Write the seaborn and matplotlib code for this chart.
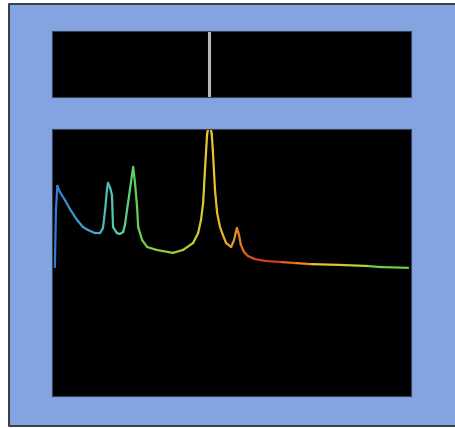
import numpy as np
import pandas as pd
import matplotlib
matplotlib.use("Agg")
import matplotlib.pyplot as plt
from matplotlib.colors import LinearSegmentedColormap
from matplotlib.patches import Rectangle
from matplotlib.lines import Line2D
import seaborn as sns

# Spectrum trace (x: 0-100 across panel, y: 0-100 panel height)
freq = [0.8, 1.1, 1.5, 2.2, 3.6, 5.0, 7.0, 8.6, 10.0, 12.0, 13.4, 14.2, 14.8, 15.3, 15.6,
        16.2, 16.7, 17.0, 18.1, 18.9, 19.8, 20.3, 20.9, 21.7, 22.6, 23.1, 23.7, 24.0, 25.1,
        26.5, 29.2, 33.7, 36.5, 39.3, 40.7, 41.5, 42.1, 42.6, 43.2, 43.9, 44.5, 44.8, 45.4,
        46.0, 46.8, 47.6, 48.5, 49.9, 50.7, 51.5, 52.1, 52.6, 53.5, 54.6,
        56.5, 59.3, 63.5, 67.7, 71.9, 80.2, 87.7, 91.4, 99.2]
power = [48.3, 69.7, 78.7, 76.4, 73.4, 70.0, 65.9, 63.3, 62.2, 61.0, 61.0, 62.9, 69.7,
         77.2, 79.8, 77.9, 75.3, 63.3, 61.0, 60.7, 61.4, 64.0, 69.7, 77.2, 85.8, 80.1,
         70.8, 63.3, 58.4, 55.8, 54.7, 53.6, 54.7, 57.3, 61.0, 65.9, 72.3, 84.6, 98.0,
         103.0, 98.0, 92.1, 77.2, 68.5, 63.3, 60.3, 57.3, 55.8, 58.4, 62.9, 60.3, 56.6,
         53.9, 52.4, 51.3, 50.6, 50.2, 49.8, 49.4, 49.1, 48.7, 48.3, 48.0]
tone = [0.00, 0.01, 0.02, 0.04, 0.07, 0.10, 0.13, 0.16, 0.19, 0.22, 0.24, 0.26, 0.28,
        0.29, 0.30, 0.31, 0.32, 0.33, 0.34, 0.36, 0.37, 0.38, 0.39, 0.41, 0.44, 0.45,
        0.46, 0.47, 0.48, 0.49, 0.51, 0.55, 0.58, 0.60, 0.62, 0.63, 0.64, 0.65, 0.66,
        0.66, 0.67, 0.67, 0.68, 0.69, 0.70, 0.71, 0.73, 0.75, 0.77, 0.79, 0.80, 0.84,
        0.88, 0.93, 0.98, 1.00, 0.86, 0.78, 0.67, 0.60, 0.48, 0.46, 0.45]
cursor_x = [43.7]

cmap = LinearSegmentedColormap.from_list(
    "spec", [(0.0, "#2f7fd8"), (0.2, "#4aa8c8"), (0.35, "#5ccfa8"), (0.45, "#62d050"),
             (0.56, "#a8d030"), (0.66, "#e8c830"), (0.8, "#e88020"), (1.0, "#d83818")])

rows = []
for i in range(len(freq) - 1):
    for j in (i, i + 1):
        rows.append({"seg": i, "f": freq[j], "p": power[j], "c": tone[i]})
df = pd.DataFrame(rows)

sns.set_theme(style="white")
fig = plt.figure(figsize=(4.55, 4.28), dpi=100)
fig.patch.set_facecolor("white")
W, H = 455, 428
x0, x1, y0, y1 = 9 / W, 1.0, 1 - 426 / H, 1 - 4 / H
fig.patches.append(Rectangle((x0, y0), x1 - x0 + 0.05, y1 - y0, transform=fig.transFigure,
                             facecolor="#83a4e0", edgecolor="none", zorder=-10))
fig.lines.append(Line2D([1.02, x0, x0, 1.02], [y1, y1, y0, y0], transform=fig.transFigure,
                        color="#3a3a48", lw=1.4, zorder=-9))

ax_top = fig.add_axes([52 / W, 1 - 97 / H, 359 / W, 66 / H])
ax = fig.add_axes([52 / W, 1 - 396 / H, 359 / W, 267 / H])

for a in (ax_top, ax):
    a.set_zorder(5)
    a.set_facecolor("black")
    a.set_xticks([]); a.set_yticks([])
    a.set_xlim(0, 100); a.set_ylim(0, 100)
    for s in a.spines.values():
        s.set_color("#38405a"); s.set_linewidth(0.8); s.set_visible(True)

for xv in cursor_x:
    ax_top.axvline(xv, color="#b8b8b8", lw=2.2)

sns.lineplot(data=df, x="f", y="p", hue="c", units="seg", estimator=None, palette=cmap,
             hue_norm=(0, 1), legend=False, lw=1.6, ax=ax, sort=False)
ax.set_xlim(0, 100); ax.set_ylim(0, 100)
ax.set_xlabel(""); ax.set_ylabel("")

fig.savefig("out.png", dpi=100, facecolor=fig.get_facecolor())
